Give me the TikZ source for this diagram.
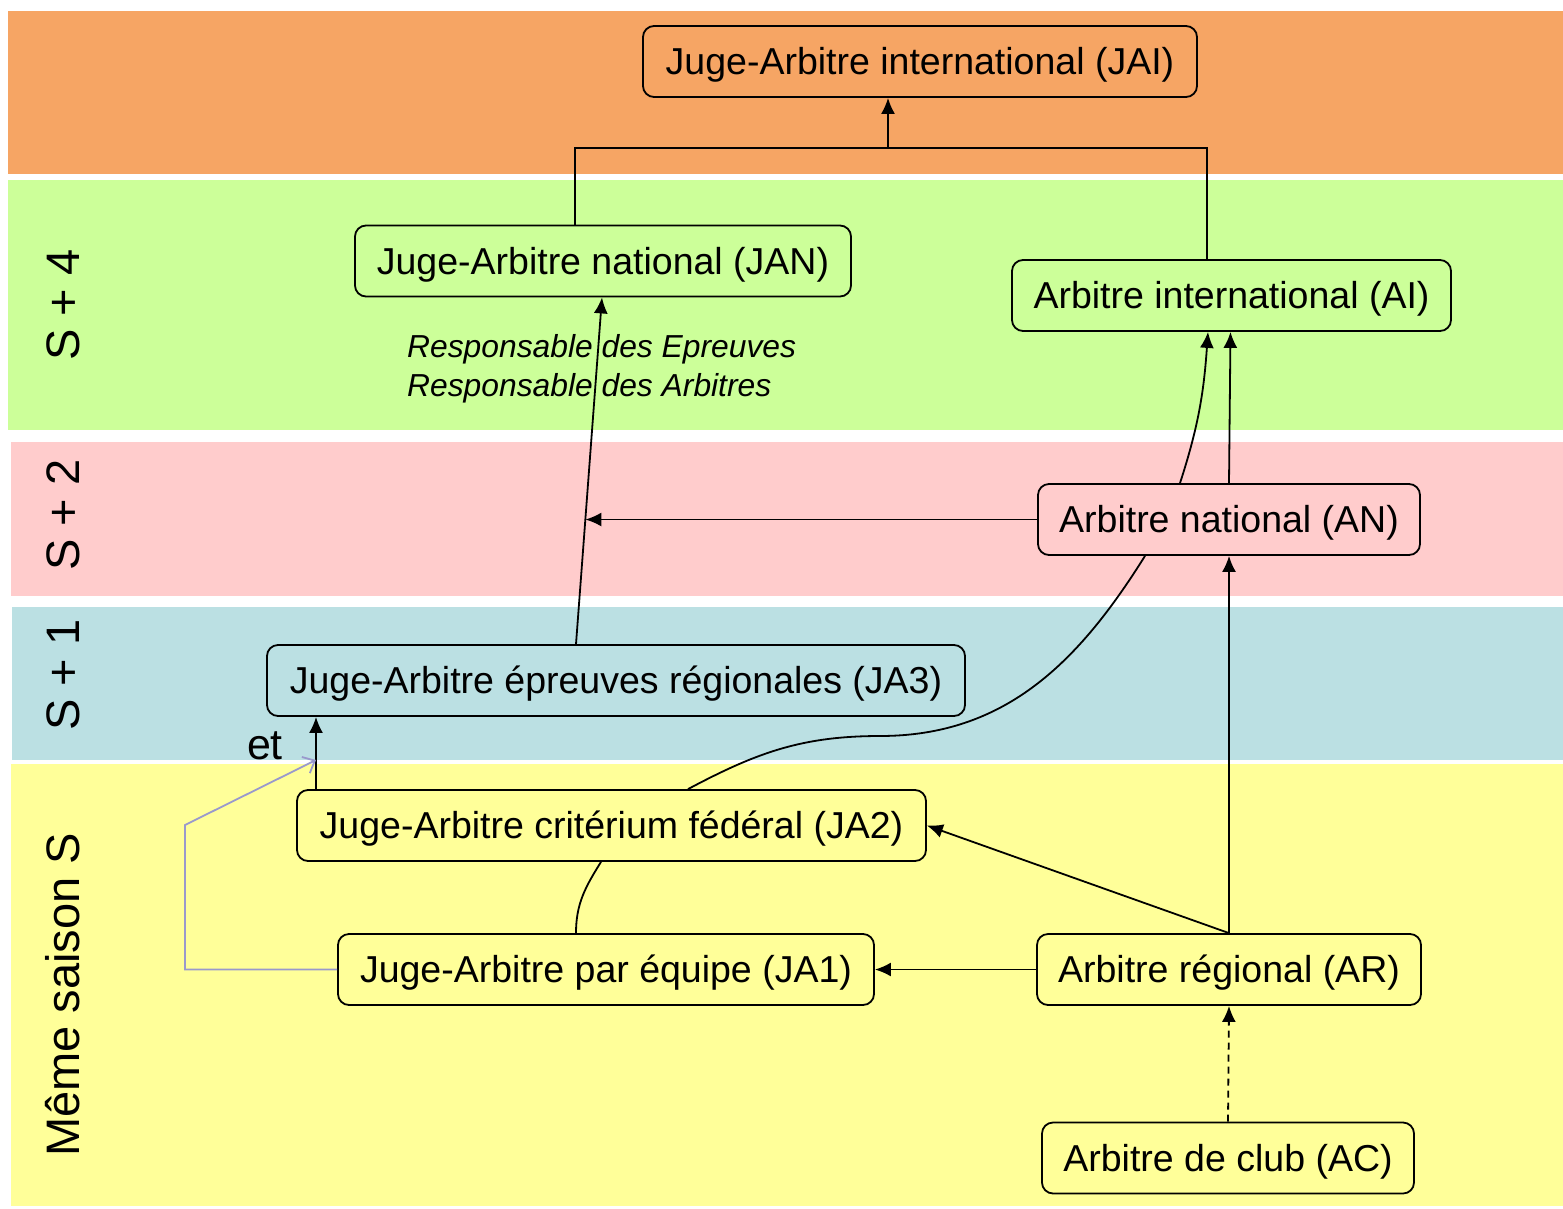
\documentclass[tikz,border=0pt]{standalone}
\usepackage{fontspec}
\setmainfont{Liberation Sans}
\usetikzlibrary{arrows.meta,calc}
\definecolor{cOrange}{RGB}{246,165,100}
\definecolor{cGreen}{RGB}{204,255,153}
\definecolor{cPink}{RGB}{255,204,204}
\definecolor{cBlue}{RGB}{187,224,227}
\definecolor{cYellow}{RGB}{255,255,153}
\definecolor{cLav}{RGB}{153,153,204}
\begin{document}
\begin{tikzpicture}[x=1pt,y=-1pt,
  box/.style={draw, line width=1.8pt, rounded corners=11pt, inner sep=0pt,
    minimum height=71pt, text height=30pt, text depth=4pt,
    font=\fontsize{37.5}{42}\selectfont},
  conn/.style={line width=1.8pt},
  arr/.style={conn, -{Latex[length=16pt,width=14pt]}},
  side/.style={rotate=90, font=\fontsize{47}{52}\selectfont, inner sep=0pt}]
\useasboundingbox (0,0) rectangle (1563,1208);
% bands
\fill[cOrange] (8,11) rectangle (1563,174);
\fill[cGreen] (8,180) rectangle (1563,430);
\fill[cPink] (11,442) rectangle (1563,596);
\fill[cBlue] (12,607) rectangle (1563,760);
\fill[cYellow] (11,764) rectangle (1563,1206);
% side labels
\node[side] (l4) at (63,305) {S + 4};
\node[side] (l2) at (63,515) {S + 2};
\node[side] (l1) at (63,675) {S + 1};
\node[side] (l0) at (63,995) {Même saison S};
% nodes
\node[box, minimum width=554pt] (JAI) at (920,61.5) {Juge-Arbitre international (JAI)};
\node[box, minimum width=496pt] (JAN) at (603,261) {Juge-Arbitre national (JAN)};
\node[box, minimum width=439pt] (AI) at (1231.5,295.5) {Arbitre international (AI)};
\node[box, minimum width=382pt] (AN) at (1229,519.5) {Arbitre national (AN)};
\node[box, minimum width=698pt] (JA3) at (616,680.5) {Juge-Arbitre épreuves régionales (JA3)};
\node[box, minimum width=629pt] (JA2) at (611.5,825.5) {Juge-Arbitre critérium fédéral (JA2)};
\node[box, minimum width=536pt] (JA1) at (606,969.5) {Juge-Arbitre par équipe (JA1)};
\node[box, minimum width=384pt] (AR) at (1229,969.5) {Arbitre régional (AR)};
\node[box, minimum width=372pt] (AC) at (1228,1158) {Arbitre de club (AC)};
\node[anchor=west, align=left, inner sep=0pt, font=\fontsize{31.8}{38.5}\selectfont\itshape] (resp) at (407,369)
  {Responsable des Epreuves\\Responsable des Arbitres};
\node[inner sep=0pt, font=\fontsize{43}{48}\selectfont] (et) at (265,746) {et};
% coordinates
\coordinate (J) at (888,148);
\coordinate (etx) at (316,760);
\coordinate (bend) at (185,825);
\coordinate (mid) at (880,736);
% connectors
\draw[conn] ([xshift=-28pt]JAN.north) |- (J) -| ([xshift=-24.5pt]AI.north);
\draw[arr] (J) -- (J |- JAI.south);
\coordinate (a3) at ([xshift=-40pt]JA3.north);
\coordinate (an) at ([xshift=-1pt]JAN.south);
\draw[arr] (a3) -- (an);
\coordinate (m) at ($(a3)!0.36!(an)$);
\draw[arr] (AN.west) -- (AN.west -| m);
\draw[arr] ([xshift=-49pt]AN.north) to[out=72,in=-94] ([xshift=-23.5pt]AI.south);
\draw[arr] (AN.north) -- ([xshift=-1pt]AI.south);
\draw[conn] ([xshift=76.5pt]JA2.north) to[out=28,in=180] (mid) to[out=0,in=-122] ([xshift=-84pt]AN.south);
\draw[conn] ([xshift=-10.5pt]JA2.south) to[out=-122,in=90] ([xshift=-30pt]JA1.north);
\draw[arr] (AR.north) -- (AN.south);
\draw[arr] (AR.north) -- (JA2.east);
\draw[arr] (AR.west) -- (JA1.east);
\draw[arr, dashed, dash pattern=on 7pt off 5pt] (AC.north) -- (AR.south);
\draw[arr] (JA2.north -| etx) -- (JA3.south -| etx);
\draw[line width=1.8pt, cLav, -{Straight Barb[length=10pt,width=18pt]}] (JA1.west) -| (bend) -- (etx);
\end{tikzpicture}
\end{document}
